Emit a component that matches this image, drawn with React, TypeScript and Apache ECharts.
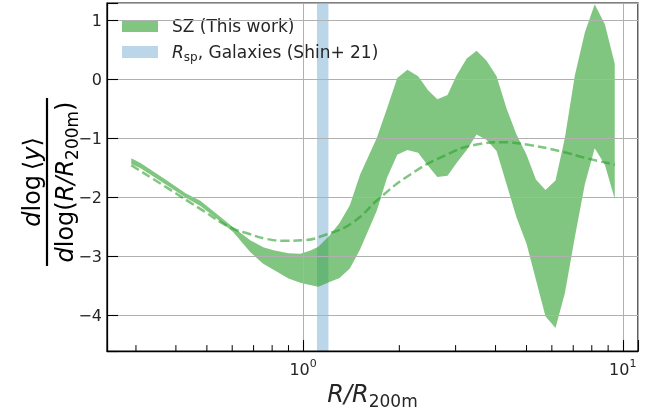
import React, { useEffect, useRef } from "react";
import * as echarts from "echarts";

// Band (SZ, this work): radius and lower / upper logarithmic slope
const bandX = [0.29, 0.31, 0.375, 0.43, 0.477, 0.53, 0.604, 0.683, 0.75, 0.808, 0.9, 0.98, 1.05, 1.116, 1.21, 1.3, 1.4, 1.507, 1.7, 1.83, 1.97, 2.12, 2.29, 2.46, 2.63, 2.83, 3.02, 3.25, 3.49, 3.75, 4.03, 4.33, 4.65, 5.0, 5.35, 5.73, 6.16, 6.59, 7.08, 7.61, 8.17, 8.79, 9.44];
const bandLower = [-1.43, -1.5, -1.79, -2.0, -2.14, -2.33, -2.58, -2.92, -3.12, -3.22, -3.37, -3.44, -3.48, -3.51, -3.43, -3.36, -3.2, -2.88, -2.22, -1.66, -1.27, -1.19, -1.24, -1.46, -1.65, -1.63, -1.41, -1.19, -0.93, -1.02, -1.21, -1.77, -2.33, -2.78, -3.39, -4.01, -4.21, -3.62, -2.67, -1.77, -1.16, -1.44, -2.02];
const bandUpper = [-1.33, -1.41, -1.71, -1.93, -2.05, -2.25, -2.5, -2.72, -2.84, -2.89, -2.94, -2.95, -2.9, -2.83, -2.64, -2.43, -2.13, -1.61, -0.99, -0.49, 0.03, 0.17, 0.06, -0.18, -0.33, -0.26, 0.07, 0.36, 0.49, 0.32, 0.06, -0.49, -0.93, -1.27, -1.69, -1.87, -1.71, -0.99, 0.07, 0.8, 1.28, 0.94, 0.27];

// Dashed model curve
const modelX = [0.29, 0.375, 0.477, 0.59, 0.683, 0.77, 0.889, 1.0, 1.186, 1.43, 1.74, 2.16, 2.74, 3.49, 4.23, 5.0, 6.35, 7.7, 9.44];
const modelY = [-1.45, -1.83, -2.19, -2.5, -2.62, -2.7, -2.73, -2.72, -2.62, -2.42, -2.0, -1.61, -1.3, -1.1, -1.06, -1.1, -1.21, -1.33, -1.44];

// R_sp range, Galaxies (Shin+ 21)
const shinRange = [1.105, 1.2];

// Minor tick positions of the log x axis
const minorTicks = [0.3, 0.4, 0.5, 0.6, 0.7, 0.8, 0.9, 2, 3, 4, 5, 6, 7, 8, 9];

const X_MIN = 0.2435;
const X_MAX = 11.16;
const Y_MIN = -4.6;
const Y_MAX = 1.3;

const FONT = "DejaVu Sans";
const TXT = "#262626";
const GREEN = "rgba(44,160,44,0.6)";
const BLUE = "rgba(31,119,180,0.3)";

export default function App() {
  const ref = useRef<HTMLDivElement>(null);
  useEffect(() => {
    if (!ref.current) return;
    const chart = echarts.init(ref.current, null, { renderer: "svg" });
    const isDecade = (v: number) => Math.abs(Math.log10(v) - Math.round(Math.log10(v))) < 1e-6;
    const option: any = {
      animation: false,
      grid: {
        left: 107, right: 12, top: 3, bottom: 59,
        show: true, borderColor: "#000", borderWidth: 1.25, backgroundColor: "transparent",
      },
      xAxis: {
        type: "log", logBase: 10, min: X_MIN, max: X_MAX,
        axisLine: { show: true, onZero: false, lineStyle: { color: "#000", width: 1.25 } },
        axisTick: { show: true, inside: true, length: 11, lineStyle: { color: "#000", width: 1.1 } },
        splitLine: { show: true, lineStyle: { color: "#b0b0b0", width: 1 } },
        minorTick: { show: false },
        axisLabel: {
          margin: 7, color: TXT, fontFamily: FONT, fontSize: 16,
          formatter: (v: number) => (isDecade(v) ? "10{sup|" + Math.round(Math.log10(v)) + "}" : ""),
          rich: {
            sup: { fontSize: 11, fontFamily: FONT, color: TXT, verticalAlign: "top", lineHeight: 22 },
          },
        },
        name: "{i|R}{i|/}{i|R}{sub|200m}",
        nameLocation: "middle",
        nameGap: 22,
        nameTextStyle: {
          rich: {
            i: { fontSize: 24, fontFamily: FONT, fontStyle: "italic", color: TXT, lineHeight: 30, verticalAlign: "middle" },
            sub: { fontSize: 17, fontFamily: FONT, color: TXT, lineHeight: 17, verticalAlign: "bottom" },
          },
        },
      },
      yAxis: {
        type: "value", min: Y_MIN, max: Y_MAX,
        axisLine: { show: true, onZero: false, lineStyle: { color: "#000", width: 1.25 } },
        axisTick: { show: true, inside: true, length: 11, lineStyle: { color: "#000", width: 1.1 } },
        splitLine: { show: true, lineStyle: { color: "#b0b0b0", width: 1 } },
        axisLabel: {
          margin: 5, color: TXT, fontFamily: FONT, fontSize: 16,
          formatter: (v: number) => {
            if (Math.abs(v - Math.round(v)) > 1e-6) return "";
            const r = Math.round(v);
            return r < 0 ? "\u2212" + Math.abs(r) : String(r);
          },
        },
      },
      series: [
        {
          type: "custom",
          z: -2,
          data: [[shinRange[0], shinRange[1]]],
          renderItem: (params: any, api: any) => {
            const a = api.coord([api.value(0), 0]);
            const b = api.coord([api.value(1), 0]);
            const cs = params.coordSys;
            return { type: "rect", shape: { x: a[0], y: cs.y, width: b[0] - a[0], height: cs.height }, style: { fill: BLUE } };
          },
        },
        {
          type: "custom",
          z: -1,
          data: bandX.map((x, i) => [x, bandLower[i], bandUpper[i]]),
          renderItem: (params: any, api: any) => {
            if (params.dataIndex !== 0) return null;
            const top = bandX.map((x, i) => api.coord([x, bandUpper[i]]));
            const bot = bandX.map((x, i) => api.coord([x, bandLower[i]])).reverse();
            return { type: "polygon", shape: { points: top.concat(bot) }, style: { fill: GREEN } };
          },
        },
        {
          type: "line",
          z: 3,
          data: modelX.map((x, i) => [x, modelY[i]]),
          smooth: true,
          showSymbol: false,
          symbol: "none",
          lineStyle: { color: GREEN, width: 2.5, type: [9, 4] },
        },
        {
          type: "custom",
          z: 4,
          data: minorTicks.map((v) => [v, Y_MIN]),
          renderItem: (params: any, api: any) => {
            const p = api.coord([api.value(0), api.value(1)]);
            return { type: "line", shape: { x1: p[0], y1: p[1], x2: p[0], y2: p[1] - 6 }, style: { stroke: "#000", lineWidth: 1 } };
          },
        },
      ],
      graphic: [
        {
          type: "group", x: 47, y: 182, rotation: Math.PI / 2,
          children: [
            {
              type: "text", x: 0, y: -3,
              style: {
                text: "{i|d}{n|log\u2009\u27E8}{i|y}{n|\u27E9}",
                align: "center", verticalAlign: "bottom",
                rich: {
                  i: { fontSize: 24, fontFamily: FONT, fontStyle: "italic", fill: "#000" },
                  n: { fontSize: 24, fontFamily: FONT, fill: "#000" },
                },
              },
            },
            { type: "line", shape: { x1: -84, y1: 0, x2: 84, y2: 0 }, style: { stroke: "#000", lineWidth: 2.2 } },
            {
              type: "text", x: 0, y: 3,
              style: {
                text: "{i|d}{n|log(}{i|R/R}{sub|200m}{n|)}",
                align: "center", verticalAlign: "top",
                rich: {
                  i: { fontSize: 24, fontFamily: FONT, fontStyle: "italic", fill: "#000", lineHeight: 30, verticalAlign: "middle" },
                  n: { fontSize: 24, fontFamily: FONT, fill: "#000", lineHeight: 30, verticalAlign: "middle" },
                  sub: { fontSize: 17, fontFamily: FONT, fill: "#000", lineHeight: 17, verticalAlign: "bottom" },
                },
              },
            },
          ],
        },
        { type: "rect", shape: { x: 122, y: 20, width: 36, height: 12 }, style: { fill: GREEN } },
        { type: "rect", shape: { x: 122, y: 46, width: 36, height: 12 }, style: { fill: BLUE } },
        {
          type: "text", x: 172, y: 26,
          style: { text: "SZ (This work)", fontSize: 17, fontFamily: FONT, fill: TXT, verticalAlign: "middle" },
        },
        {
          type: "text", x: 172, y: 52,
          style: {
            text: "{i|R}{sub|sp}{n|, Galaxies (Shin+ 21)}",
            verticalAlign: "middle",
            rich: {
              i: { fontSize: 17, fontFamily: FONT, fontStyle: "italic", fill: TXT, lineHeight: 22, verticalAlign: "middle" },
              n: { fontSize: 17, fontFamily: FONT, fill: TXT, lineHeight: 22, verticalAlign: "middle" },
              sub: { fontSize: 12, fontFamily: FONT, fill: TXT, lineHeight: 12, verticalAlign: "bottom" },
            },
          },
        },
      ],
    };
    chart.setOption(option);
    return () => chart.dispose();
  }, []);
  return <div ref={ref} style={{ position: "fixed", left: 0, top: 0, width: 650, height: 414 }} />;
}
